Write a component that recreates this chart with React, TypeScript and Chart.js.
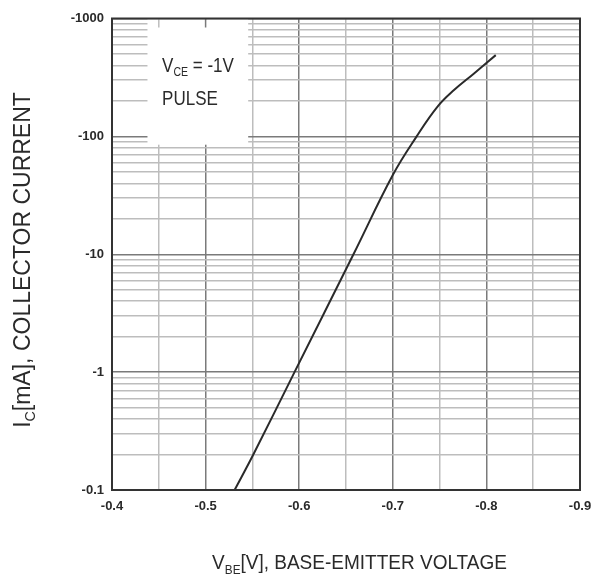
import React, { useEffect, useRef } from "react";
import { Chart, registerables } from "chart.js";

Chart.register(...registerables);

// Curve: base-emitter voltage (V) vs collector current magnitude (mA)
const vbe = [-0.531, -0.551, -0.595, -0.658, -0.7, -0.7255, -0.7476, -0.7654, -0.7868, -0.81];
const icMag = [0.1, 0.2, 1, 10, 47, 100, 178, 247, 342, 489];

// Axis ticks
const xMajorTicks = [-0.4, -0.5, -0.6, -0.7, -0.8, -0.9];
const xMinorTicks = [-0.45, -0.55, -0.65, -0.75, -0.85];
const xTickLabels = ["-0.4", "-0.5", "-0.6", "-0.7", "-0.8", "-0.9"];
const yDecades = [0.1, 1, 10, 100, 1000];
const yTickLabels = ["-0.1", "-1", "-10", "-100", "-1000"];
const yMinorMultipliers = [2, 3, 4, 5, 6, 7, 8, 9];

const FONT = "'Liberation Sans', Arial, sans-serif";

type Part = [string, boolean];

function partsWidth(ctx: CanvasRenderingContext2D, parts: Part[], size: number) {
  let w = 0;
  for (const [t, sub] of parts) {
    ctx.font = `${sub ? size * 0.62 : size}px ${FONT}`;
    w += ctx.measureText(t).width;
  }
  return w;
}

function drawParts(
  ctx: CanvasRenderingContext2D,
  parts: Part[],
  x: number,
  y: number,
  size: number,
  sy = 1
) {
  ctx.save();
  ctx.translate(x, y);
  ctx.scale(1, sy);
  ctx.textBaseline = "alphabetic";
  ctx.textAlign = "left";
  let cx = 0;
  for (const [t, sub] of parts) {
    ctx.font = `${sub ? size * 0.62 : size}px ${FONT}`;
    ctx.fillText(t, cx, sub ? size * 0.22 : 0);
    cx += ctx.measureText(t).width;
  }
  ctx.restore();
}

const xTitle: Part[] = [["V", false], ["BE", true], ["[V], BASE-EMITTER VOLTAGE", false]];
const yTitle: Part[] = [["I", false], ["C", true], ["[mA], COLLECTOR CURRENT", false]];
const legendLine1: Part[] = [["V", false], ["CE", true], [" = -1V", false]];
const legendLine2: Part[] = [["PULSE", false]];

const decorPlugin = {
  id: "decor",
  beforeDatasetsDraw(chart: any) {
    const ctx: CanvasRenderingContext2D = chart.ctx;
    const xs = chart.scales.x;
    const ys = chart.scales.y;
    const { top } = chart.chartArea;
    // legend box covering gridlines
    const bx0 = xs.getPixelForValue(-0.4379);
    const bx1 = xs.getPixelForValue(-0.5455);
    const by1 = ys.getPixelForValue(85);
    ctx.save();
    ctx.fillStyle = "#ffffff";
    ctx.fillRect(bx0, top + 1, bx1 - bx0, by1 - top - 1);
    // short tick stubs at top
    ctx.lineWidth = 1.5;
    ctx.strokeStyle = "#bdbdbd";
    for (const v of [-0.45]) {
      const px = xs.getPixelForValue(v);
      ctx.beginPath();
      ctx.moveTo(px, top);
      ctx.lineTo(px, top + 9);
      ctx.stroke();
    }
    ctx.strokeStyle = "#7a7a7a";
    for (const v of [-0.5]) {
      const px = xs.getPixelForValue(v);
      ctx.beginPath();
      ctx.moveTo(px, top);
      ctx.lineTo(px, top + 9);
      ctx.stroke();
    }
    ctx.fillStyle = "#2a2a2a";
    const lx = xs.getPixelForValue(-0.4535);
    drawParts(ctx, legendLine1, lx, ys.getPixelForValue(355), 17, 1.15);
    drawParts(ctx, legendLine2, lx, ys.getPixelForValue(185), 17, 1.15);
    ctx.restore();
  },
  afterDraw(chart: any) {
    const ctx: CanvasRenderingContext2D = chart.ctx;
    const { left, right, top, bottom } = chart.chartArea;
    ctx.save();
    ctx.strokeStyle = "#333333";
    ctx.lineWidth = 2;
    ctx.strokeRect(left, top, right - left, bottom - top);

    ctx.fillStyle = "#2a2a2a";
    // x title
    let size = 19;
    const wx = partsWidth(ctx, xTitle, size);
    size = size * (295 / wx);
    const wx2 = partsWidth(ctx, xTitle, size);
    drawParts(ctx, xTitle, 359.5 - wx2 / 2, 569, size, 1.08);

    // y title (rotated)
    let ysz = 22;
    const wy = partsWidth(ctx, yTitle, ysz);
    ysz = ysz * (336 / wy);
    const wy2 = partsWidth(ctx, yTitle, ysz);
    ctx.save();
    ctx.translate(30, 260);
    ctx.rotate(-Math.PI / 2);
    drawParts(ctx, yTitle, -wy2 / 2, 0, ysz, 1);
    ctx.restore();
    ctx.restore();
  },
};

export default function App() {
  const ref = useRef<HTMLCanvasElement | null>(null);

  useEffect(() => {
    if (!ref.current) return;
    const yMinor: number[] = [];
    for (let i = 0; i < yDecades.length - 1; i++) {
      for (const m of yMinorMultipliers) yMinor.push(yDecades[i] * m);
    }
    const xAll = [...xMajorTicks, ...xMinorTicks].sort((a, b) => b - a);
    const yAll = [...yDecades, ...yMinor].sort((a, b) => a - b);
    const isXMajor = (v: number) => xMajorTicks.some((m) => Math.abs(m - v) < 1e-6);
    const isYMajor = (v: number) => yDecades.some((m) => Math.abs(m - v) < 1e-9 * m);

    const chart = new Chart(ref.current, {
      type: "line",
      data: {
        datasets: [
          {
            data: vbe.map((x, i) => ({ x, y: icMag[i] })),
            borderColor: "#2a2a2a",
            borderWidth: 2,
            pointRadius: 0,
            tension: 0.4,
            fill: false,
          },
        ],
      },
      options: {
        animation: false,
        responsive: false,
        devicePixelRatio: 1,
        layout: { padding: { left: 0, right: 11, top: 18.5, bottom: 0 } },
        plugins: { legend: { display: false }, tooltip: { enabled: false } },
        scales: {
          x: {
            type: "linear",
            min: -0.9,
            max: -0.4,
            reverse: true,
            afterBuildTicks: (s: any) => {
              s.ticks = xAll.map((value) => ({ value }));
            },
            afterFit: (s: any) => {
              s.height = 88;
              s.paddingLeft = 0;
              s.paddingRight = 0;
            },
            grid: {
              drawTicks: false,
              lineWidth: 1.5,
              color: (c: any) => (c.tick && isXMajor(c.tick.value) ? "#7a7a7a" : "#bdbdbd"),
            },
            border: { display: false },
            ticks: {
              autoSkip: false,
              maxRotation: 0,
              padding: 9,
              color: "#2a2a2a",
              font: { family: FONT, size: 13, weight: "bold" },
              callback: (v: any) => {
                const idx = xMajorTicks.findIndex((m) => Math.abs(m - Number(v)) < 1e-6);
                return idx >= 0 ? xTickLabels[idx] : "";
              },
            },
          },
          y: {
            type: "logarithmic",
            min: 0.1,
            max: 1000,
            afterBuildTicks: (s: any) => {
              s.ticks = yAll.map((value) => ({ value }));
            },
            afterFit: (s: any) => {
              s.width = 112;
              s.paddingTop = 0;
              s.paddingBottom = 0;
            },
            grid: {
              drawTicks: false,
              lineWidth: 1.5,
              color: (c: any) => (c.tick && isYMajor(c.tick.value) ? "#7a7a7a" : "#bdbdbd"),
            },
            border: { display: false },
            ticks: {
              autoSkip: false,
              padding: 8,
              color: "#2a2a2a",
              font: { family: FONT, size: 13, weight: "bold" },
              callback: (v: any) => {
                const idx = yDecades.findIndex((m) => Math.abs(m - Number(v)) < 1e-9 * m);
                return idx >= 0 ? yTickLabels[idx] : "";
              },
            },
          },
        },
      },
      plugins: [decorPlugin],
    } as any);
    return () => chart.destroy();
  }, []);

  return (
    <div style={{ position: "absolute", left: 0, top: 0, width: 591, height: 578, background: "#fff" }}>
      <canvas ref={ref} width={591} height={578} style={{ display: "block" }} />
    </div>
  );
}
